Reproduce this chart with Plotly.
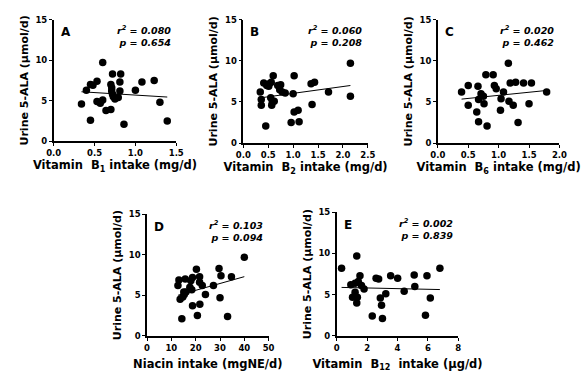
import plotly.graph_objects as go

# ---- data ----
a_x = [0.34, 0.40, 0.45, 0.45, 0.48, 0.53, 0.53, 0.57, 0.60, 0.60, 0.64, 0.70, 0.70, 0.72, 0.71, 0.71, 0.72, 0.73, 0.75, 0.79, 0.81, 0.81, 0.82, 0.86, 1.00, 1.08, 1.23, 1.30, 1.39]
a_y = [4.6, 6.3, 7.0, 2.6, 6.9, 7.4, 4.9, 4.7, 9.7, 5.1, 3.8, 3.9, 7.0, 8.3, 6.6, 6.2, 5.8, 5.5, 5.2, 5.4, 7.3, 6.2, 8.3, 2.1, 6.3, 7.3, 7.5, 4.8, 2.5]
a_fit = [6.1, 5.45]

b_x = [0.34, 0.36, 0.36, 0.41, 0.47, 0.52, 0.51, 0.56, 0.60, 0.55, 0.58, 0.57, 0.62, 0.45, 0.69, 0.75, 0.73, 0.78, 0.84, 1.02, 1.00, 1.02, 1.10, 0.96, 1.12, 1.36, 1.43, 1.38, 1.71, 2.15, 2.15]
b_y = [6.2, 5.3, 4.6, 7.3, 7.0, 7.2, 6.9, 7.4, 8.2, 5.5, 5.0, 4.6, 5.1, 2.1, 7.0, 7.1, 6.5, 6.2, 6.1, 8.2, 6.0, 3.8, 4.0, 2.5, 2.6, 7.2, 7.4, 4.7, 6.2, 9.7, 5.7]
b_fit = [5.5, 7.0]

c_x = [0.39, 0.50, 0.50, 0.66, 0.64, 0.67, 0.67, 0.71, 0.75, 0.76, 0.79, 0.81, 0.91, 0.93, 0.96, 1.04, 1.03, 1.08, 1.16, 1.19, 1.17, 1.24, 1.28, 1.32, 1.41, 1.54, 1.50, 1.79]
c_y = [6.2, 7.0, 4.6, 6.9, 3.8, 5.3, 2.6, 6.0, 5.7, 4.8, 8.3, 2.1, 8.3, 7.0, 6.6, 5.4, 4.0, 6.2, 9.7, 7.3, 5.1, 4.6, 7.4, 2.5, 7.3, 7.3, 4.8, 6.2]
c_fit = [5.35, 6.4]

d_x = [12.7, 13.1, 13.6, 14.3, 14.7, 15.1, 15.3, 15.7, 16.0, 17.6, 18.0, 18.7, 18.4, 18.7, 20.3, 20.7, 21.6, 21.6, 21.7, 22.7, 24.0, 27.3, 29.6, 30.0, 30.4, 33.1, 34.7, 40.0]
d_y = [6.2, 6.9, 4.5, 2.1, 4.8, 5.4, 5.1, 7.0, 5.4, 6.0, 6.8, 7.2, 5.7, 3.7, 8.2, 2.5, 7.3, 6.6, 3.9, 6.2, 5.1, 6.2, 8.3, 4.7, 7.4, 2.4, 7.3, 9.7]
d_fit = [5.0, 7.3]

e_x = [0.32, 0.93, 1.04, 1.21, 1.21, 1.32, 1.32, 1.36, 1.42, 1.53, 1.63, 1.80, 2.34, 2.59, 2.76, 2.87, 2.95, 3.01, 3.23, 3.55, 4.01, 4.44, 5.10, 5.14, 5.84, 5.94, 6.16, 6.79]
e_y = [8.2, 6.2, 4.7, 6.4, 5.3, 9.7, 4.0, 4.7, 6.6, 7.3, 6.1, 5.7, 2.4, 7.0, 6.9, 4.6, 3.7, 2.1, 5.1, 7.3, 7.0, 5.4, 7.4, 6.0, 2.5, 7.3, 4.6, 8.2]
e_fit = [5.88, 5.62]

panels = [
    dict(x=a_x, y=a_y, fit=a_fit, letter="A", r2="0.080", p="0.654",
         xt="Vitamin  B<sub>1</sub> intake (mg/d)", xr=[0, 1.5], dt=0.5, fmt=".1f",
         dom_x=[47, 173], dom_y=[15, 140], so=3),
    dict(x=b_x, y=b_y, fit=b_fit, letter="B", r2="0.060", p="0.208",
         xt="Vitamin  B<sub>2</sub> intake (mg/d)", xr=[0, 2.5], dt=0.5, fmt=".1f",
         dom_x=[242, 370], dom_y=[15, 142], so=3),
    dict(x=c_x, y=c_y, fit=c_fit, letter="C", r2="0.020", p="0.462",
         xt="Vitamin  B<sub>6</sub> intake (mg/d)", xr=[0, 2.0], dt=0.5, fmt=".1f",
         dom_x=[442, 567], dom_y=[15, 142], so=3),
    dict(x=d_x, y=d_y, fit=d_fit, letter="D", r2="0.103", p="0.094",
         xt="Niacin intake (mgNE/d)", xr=[0, 50], dt=10, fmt="d",
         dom_x=[143, 268], dom_y=[215, 340], so=8),
    dict(x=e_x, y=e_y, fit=e_fit, letter="E", r2="0.002", p="0.839",
         xt="Vitamin  B<sub>12</sub>  intake (µg/d)", xr=[0, 8], dt=2, fmt="d",
         dom_x=[338, 463], dom_y=[213, 340], so=8),
]

W, H = 582, 372
fig = go.Figure()
xtitle_font = dict(family="DejaVu Sans", size=11.5, color="black")
ytitle_font = dict(family="DejaVu Sans", size=11, color="black")
tick_font = dict(family="DejaVu Sans", size=8.5, color="black", weight="bold")

for i, p in enumerate(panels, start=1):
    xa = "x" if i == 1 else f"x{i}"
    ya = "y" if i == 1 else f"y{i}"
    fig.add_trace(go.Scatter(x=p["x"], y=p["y"], mode="markers", xaxis=xa, yaxis=ya,
                             marker=dict(color="black", size=7.5), showlegend=False,
                             cliponaxis=False))
    fig.add_trace(go.Scatter(x=[min(p["x"]), max(p["x"])], y=p["fit"], mode="lines",
                             xaxis=xa, yaxis=ya, line=dict(color="black", width=1),
                             showlegend=False))
    dx = [p["dom_x"][0] / W, p["dom_x"][1] / W]
    dy = [1 - p["dom_y"][1] / H, 1 - p["dom_y"][0] / H]
    axis_common = dict(showline=True, linecolor="black", linewidth=1.5, ticks="outside",
                       ticklen=3, tickwidth=1.2, tickcolor="black", showgrid=False,
                       zeroline=False, tickfont=tick_font)
    fig.layout[("xaxis" if i == 1 else f"xaxis{i}")] = dict(
        domain=dx, range=p["xr"], dtick=p["dt"], tick0=0, tickformat=p["fmt"],
        anchor=ya, title=dict(text="<b>" + p["xt"] + "</b>", font=xtitle_font, standoff=p["so"]),
        **axis_common)
    fig.layout[("yaxis" if i == 1 else f"yaxis{i}")] = dict(
        domain=dy, range=[0, 15], dtick=5, anchor=xa,
        title=dict(text="<b>Urine 5-ALA (µmol/d)</b>", font=ytitle_font, standoff=5),
        **axis_common)
    fig.add_annotation(xref=f"{xa} domain", yref=f"{ya} domain", x=0.04, y=0.97,
                       xanchor="left", yanchor="top", showarrow=False,
                       text="<b>" + p["letter"] + "</b>",
                       font=dict(family="DejaVu Sans", size=12, color="black"))
    fig.add_annotation(xref=f"{xa} domain", yref=f"{ya} domain", x=0.97, y=0.98,
                       xanchor="right", yanchor="top", showarrow=False, align="right",
                       text=f"<b><i>r<sup>2</sup> = {p['r2']}<br>p = {p['p']}</i></b>",
                       font=dict(family="DejaVu Sans", size=9.5, color="black"))

fig.update_layout(width=W, height=H, margin=dict(l=0, r=0, t=0, b=0),
                  plot_bgcolor="white", paper_bgcolor="white")
fig.write_html("out.html")
